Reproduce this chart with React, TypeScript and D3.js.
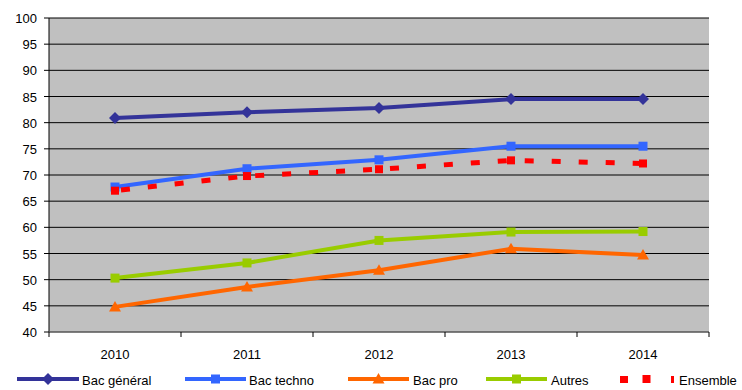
import * as d3 from "d3";

const years = ["2010", "2011", "2012", "2013", "2014"];
const yTicks = [40, 45, 50, 55, 60, 65, 70, 75, 80, 85, 90, 95, 100];

const bacGeneral = [80.9, 82.0, 82.8, 84.5, 84.5];
const bacTechno = [67.7, 71.2, 72.9, 75.5, 75.5];
const bacPro = [44.8, 48.6, 51.8, 55.9, 54.7];
const autres = [50.3, 53.2, 57.5, 59.1, 59.2];
const ensemble = [67.0, 69.8, 71.1, 72.8, 72.2];

type Series = {
  name: string;
  values: number[];
  color: string;
  marker: "diamond" | "square" | "triangle" | "redsquare";
  dashed?: boolean;
};

const series: Series[] = [
  { name: "Bac général", values: bacGeneral, color: "#333399", marker: "diamond" },
  { name: "Bac techno", values: bacTechno, color: "#3366FF", marker: "square" },
  { name: "Bac pro", values: bacPro, color: "#FF6600", marker: "triangle" },
  { name: "Autres", values: autres, color: "#99CC00", marker: "square" },
  { name: "Ensemble", values: ensemble, color: "#FF0000", marker: "redsquare", dashed: true },
];

const W = 742;
const H = 390;
const left = 49;
const right = 709;
const top = 18;
const bottom = 332;
const FONT = "'Liberation Sans', Arial, sans-serif";

const Marker = ({ type, x, y, color }: { type: Series["marker"]; x: number; y: number; color: string }) => {
  if (type === "diamond") {
    const s = 6;
    return <path d={`M${x},${y - s}L${x + s},${y}L${x},${y + s}L${x - s},${y}Z`} fill={color} />;
  }
  if (type === "triangle") {
    const s = 6;
    return <path d={`M${x},${y - s}L${x + s},${y + s * 0.75}L${x - s},${y + s * 0.75}Z`} fill={color} />;
  }
  const s = type === "redsquare" ? 8 : 9;
  return <rect x={x - s / 2} y={y - s / 2} width={s} height={s} fill={color} />;
};

export default function App() {
  const x = d3.scaleBand<string>().domain(years).range([left, right]);
  const y = d3.scaleLinear().domain([40, 100]).range([bottom, top]);
  const cx = (d: string) => (x(d) ?? 0) + x.bandwidth() / 2;

  const line = d3
    .line<number>()
    .x((_, i) => cx(years[i]))
    .y((v) => y(v));

  // legend samples sit on the bottom edge like in the original export
  const legendItems = [
    { x0: 17, x1: 79, tx: 82 },
    { x0: 185, x1: 246, tx: 249 },
    { x0: 348, x1: 409, tx: 413 },
    { x0: 486, x1: 547, tx: 551 },
    { x0: 617, x1: 676, tx: 679 },
  ];
  const legendY = 379;

  return (
    <svg width={W} height={H} style={{ position: "absolute", left: 0, top: 0, background: "#fff" }}>
      <rect x={left} y={top} width={right - left} height={bottom - top} fill="#C0C0C0" />
      {yTicks.map((t) => (
        <g key={t}>
          {t > 40 && <line x1={left} x2={right} y1={y(t)} y2={y(t)} stroke="#000" strokeWidth={1} />}
          <line x1={left - 5} x2={left} y1={y(t)} y2={y(t)} stroke="#000" />
          <text x={37} y={y(t) + 5} textAnchor="end" fontFamily={FONT} fontSize={13} fill="#000">
            {t}
          </text>
        </g>
      ))}
      <line x1={left} x2={left} y1={top} y2={bottom} stroke="#000" />
      <line x1={left} x2={right} y1={bottom} y2={bottom} stroke="#555" strokeWidth={1.5} />
      {years.map((d) => (
        <line key={"t" + d} x1={x(d)} x2={x(d)} y1={bottom} y2={bottom + 5} stroke="#000" />
      ))}
      <line x1={right} x2={right} y1={bottom} y2={bottom + 5} stroke="#000" />
      {years.map((d) => (
        <text key={d} x={cx(d)} y={359} textAnchor="middle" fontFamily={FONT} fontSize={13} fill="#000">
          {d}
        </text>
      ))}

      {series.map((s) => (
        <g key={s.name}>
          <path
            d={line(s.values) ?? ""}
            fill="none"
            stroke={s.color}
            strokeWidth={s.dashed ? 5 : 4}
            strokeDasharray={s.dashed ? "9 18" : undefined}
            strokeDashoffset={s.dashed ? -6 : 0}
          />
          {s.values.map((v, i) => (
            <Marker key={i} type={s.marker} x={cx(years[i])} y={y(v)} color={s.color} />
          ))}
        </g>
      ))}

      {series.map((s, i) => {
        const it = legendItems[i];
        const mx = (it.x0 + it.x1) / 2;
        return (
          <g key={"l" + s.name}>
            {s.dashed ? (
              <>
                <rect x={it.x0 + 3} y={legendY - 3} width={8} height={7} fill={s.color} />
                <rect x={it.x1 - 5} y={legendY - 3} width={3} height={7} fill={s.color} />
              </>
            ) : (
              <line x1={it.x0} x2={it.x1} y1={legendY} y2={legendY} stroke={s.color} strokeWidth={4} />
            )}
            <Marker type={s.marker} x={mx} y={legendY} color={s.color} />
            <text x={it.tx} y={385} fontFamily={FONT} fontSize={13} fill="#000">
              {s.name}
            </text>
          </g>
        );
      })}
    </svg>
  );
}
